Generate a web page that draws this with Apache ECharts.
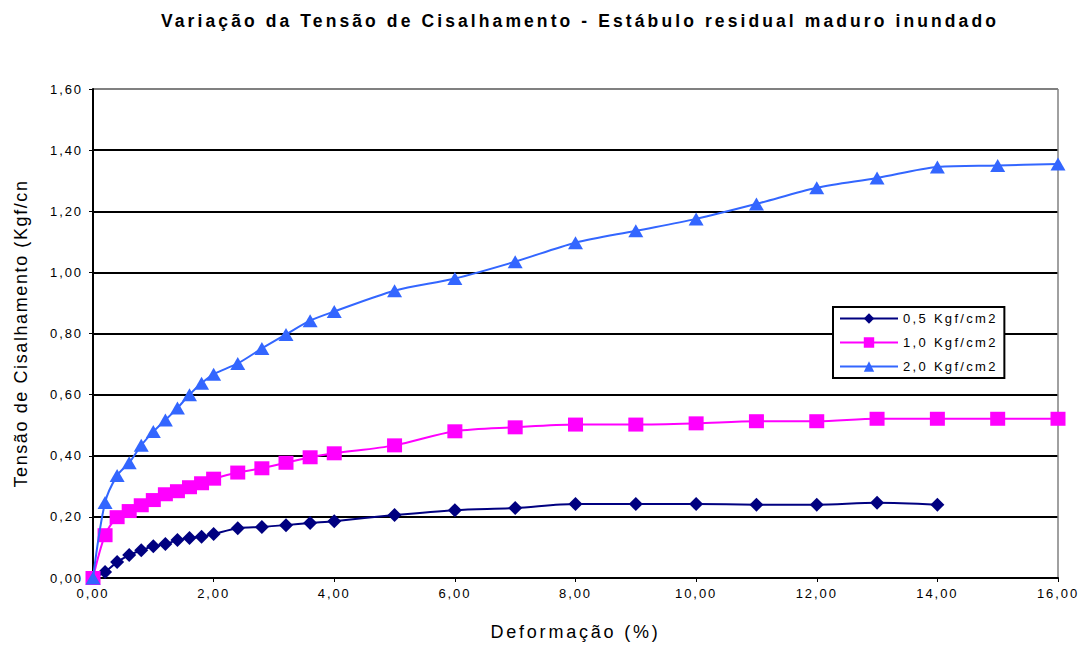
<!DOCTYPE html>
<html>
<head>
<meta charset="utf-8">
<script src="https://cdn.jsdelivr.net/npm/echarts@6/dist/echarts.min.js"></script>
<style>
html,body{margin:0;padding:0;background:#fff;}
#chart{width:1083px;height:647px;}
</style>
</head>
<body>
<div id="chart"></div>
<script>
const titleText = 'Variação da Tensão de Cisalhamento - Estábulo residual maduro inundado';
const xAxisName = 'Deformação (%)';
const yAxisName = 'Tensão de Cisalhamento (Kgf/cn';
const seriesNames = ['0,5 Kgf/cm2', '1,0 Kgf/cm2', '2,0 Kgf/cm2'];

const strainA = [0,0.2,0.4,0.6,0.8,1.0,1.2,1.4,1.6,1.8,2.0,2.4,2.8,3.2,3.6,4.0,5,6,7,8,9,10,11,12,13,14];
const stress05 = [0,0.020,0.052,0.075,0.091,0.104,0.111,0.124,0.131,0.135,0.144,0.163,0.167,0.173,0.180,0.186,0.206,0.222,0.229,0.242,0.242,0.242,0.240,0.240,0.246,0.240];

const strainB = [0,0.2,0.4,0.6,0.8,1.0,1.2,1.4,1.6,1.8,2.0,2.4,2.8,3.2,3.6,4.0,5,6,7,8,9,10,11,12,13,14,15,16];
const stress10 = [0,0.140,0.199,0.219,0.238,0.255,0.274,0.284,0.297,0.310,0.325,0.345,0.359,0.377,0.395,0.408,0.434,0.480,0.493,0.502,0.502,0.506,0.513,0.513,0.521,0.521,0.521,0.521];
const stress20 = [0,0.247,0.335,0.377,0.434,0.479,0.517,0.556,0.600,0.637,0.667,0.702,0.751,0.797,0.842,0.872,0.940,0.980,1.035,1.097,1.136,1.175,1.224,1.277,1.309,1.345,1.350,1.355];

const xTickValues = [0,2,4,6,8,10,12,14,16];
const yTickValues = [0,0.2,0.4,0.6,0.8,1.0,1.2,1.4,1.6];

const FONT = '"Liberation Sans", Arial, sans-serif';
const fmt = v => v.toFixed(2).replace('.', ',');
const pairs = (xs, ys) => xs.map((x, i) => [x, ys[i]]);

const chart = echarts.init(document.getElementById('chart'), null, {renderer: 'svg'});
const yGridColors = yTickValues.map((v, i) => i === yTickValues.length - 1 ? '#808080' : '#000000');
const xGridColors = xTickValues.map((v, i) => i === xTickValues.length - 1 ? '#808080' : 'rgba(0,0,0,0)');

chart.setOption({
  animation: false,
  backgroundColor: '#ffffff',
  title: {
    text: titleText,
    left: 575, top: 7, textAlign: 'center',
    textStyle: {fontFamily: FONT, fontSize: 17.5, fontWeight: 'bold', color: '#000'}
  },
  legend: {
    orient: 'vertical',
    left: 833, top: 307,
    padding: [5, 32, 5, 6],
    itemWidth: 58, itemHeight: 13, itemGap: 11,
    backgroundColor: '#fff',
    borderColor: '#000', borderWidth: 2,
    textStyle: {fontFamily: FONT, fontSize: 13, color: '#000'},
    data: seriesNames
  },
  grid: {left: 93, right: 25, top: 89, bottom: 69, containLabel: false},
  xAxis: {
    type: 'value', min: 0, max: 16, interval: 2,
    name: xAxisName, nameLocation: 'middle', nameGap: 45,
    nameTextStyle: {fontFamily: FONT, fontSize: 18, color: '#000'},
    axisLine: {lineStyle: {color: '#000', width: 2}},
    axisTick: {show: true, length: 4, lineStyle: {color: '#000', width: 1}},
    axisLabel: {fontFamily: FONT, fontSize: 13, color: '#000', margin: 9, formatter: v => fmt(v)},
    splitLine: {show: true, lineStyle: {color: xGridColors, width: 1.5}}
  },
  yAxis: {
    type: 'value', min: 0, max: 1.6, interval: 0.2,
    name: yAxisName, nameLocation: 'middle', nameGap: 63,
    nameTextStyle: {fontFamily: FONT, fontSize: 18, color: '#000'},
    axisLine: {show: true, lineStyle: {color: '#000', width: 2}},
    axisTick: {show: true, length: 4, lineStyle: {color: '#000', width: 1}},
    axisLabel: {fontFamily: FONT, fontSize: 13, color: '#000', margin: 10, formatter: v => fmt(v)},
    splitLine: {show: true, lineStyle: {color: yGridColors, width: 2}}
  },
  series: [
    {
      name: seriesNames[0], type: 'line', data: pairs(strainA, stress05),
      smooth: 0.3, symbol: 'diamond', symbolSize: 14, showAllSymbol: true,
      lineStyle: {color: '#000080', width: 2}, itemStyle: {color: '#000080'}, z: 2
    },
    {
      name: seriesNames[1], type: 'line', data: pairs(strainB, stress10),
      smooth: 0.3, symbol: 'rect', symbolSize: [15, 14], showAllSymbol: true,
      lineStyle: {color: '#FF00FF', width: 2}, itemStyle: {color: '#FF00FF'}, z: 3
    },
    {
      name: seriesNames[2], type: 'line', data: pairs(strainB, stress20),
      smooth: 0.3, symbol: 'triangle', symbolSize: [15, 13], showAllSymbol: true,
      lineStyle: {color: '#3366FF', width: 2}, itemStyle: {color: '#3366FF'}, z: 4
    }
  ]
});

function applySpacing() {
  document.querySelectorAll('#chart text').forEach(t => {
    const s = t.textContent || '';
    let sp = '1.9px';
    if (s.indexOf('Variação') === 0) sp = '3.1px';
    else if (s.indexOf('Deformação') === 0) sp = '2.8px';
    else if (s.indexOf('Tensão') === 0) sp = '1.6px';
    else if (s.indexOf('Kgf') > 0) sp = '2.3px';
    t.style.letterSpacing = sp;
  });
}
chart.on('finished', applySpacing);
applySpacing();
setTimeout(applySpacing, 50);
</script>
</body>
</html>
